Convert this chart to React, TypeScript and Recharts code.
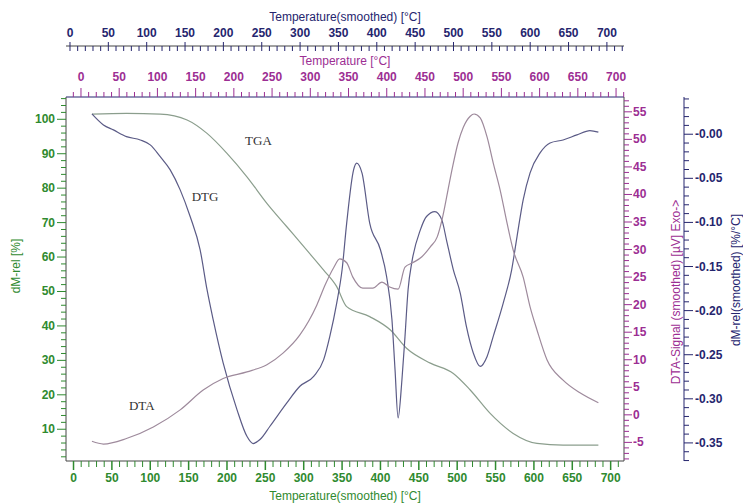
import React from 'react';
import { ComposedChart, Line, XAxis, YAxis, ReferenceDot } from 'recharts';

// TGA: relative mass [%] vs temperature
const tgaTemp = [24, 69, 113, 148, 174, 200, 226, 252, 278, 304, 326, 343, 356, 386, 413, 434, 465, 495, 517, 543, 573, 604, 638, 684];
const tgaMass = [101.5, 101.7, 101.5, 99.8, 95.9, 90.1, 83.3, 75.6, 68.8, 62.0, 56.2, 51.4, 45.6, 42.7, 38.8, 33.5, 29.2, 26.2, 21.4, 14.6, 8.8, 5.9, 5.4, 5.4];

// DTA signal [µV]
const dtaTemp = [24, 39, 69, 104, 139, 169, 195, 226, 252, 273, 295, 317, 328, 339, 347, 356, 364, 377, 390, 402, 412, 423, 432, 442, 454, 465, 474, 481, 488, 494, 501, 508, 517, 522, 530, 539, 547, 556, 565, 573, 586, 595, 604, 617, 638, 660, 684];
const dtaSignal = [-4.8, -5.3, -4.3, -2.2, 0.9, 4.5, 6.6, 7.8, 9.1, 11.2, 14.5, 19.9, 23.6, 26.7, 28.3, 27.6, 25.0, 23.0, 23.0, 24.1, 23.2, 22.8, 26.8, 27.6, 28.7, 30.5, 32.3, 35.9, 40.8, 45.0, 49.3, 52.2, 54.2, 54.6, 53.9, 50.4, 45.7, 40.8, 34.8, 29.9, 25.0, 19.6, 15.4, 10.0, 6.3, 4.0, 2.2];

// DTG: mass change rate [%/°C]
const dtgTemp = [24, 39, 52, 69, 87, 100, 113, 126, 139, 152, 165, 174, 182, 195, 213, 226, 234, 243, 256, 278, 295, 313, 326, 334, 343, 350, 356, 365, 369, 376, 386, 400, 408, 415, 419, 423, 428, 432, 436, 441, 452, 460, 471, 480, 486, 495, 504, 512, 521, 530, 539, 547, 560, 571, 578, 586, 595, 608, 621, 638, 656, 673, 684];
const dtgRate = [0.023, 0.0105, 0.0049, -0.0027, -0.0065, -0.0121, -0.0254, -0.0404, -0.0631, -0.0933, -0.131, -0.1763, -0.2103, -0.2593, -0.3122, -0.3425, -0.3507, -0.3462, -0.3311, -0.3046, -0.2858, -0.2745, -0.2556, -0.2292, -0.1914, -0.1537, -0.1008, -0.0404, -0.0328, -0.0442, -0.1008, -0.131, -0.1613, -0.2103, -0.2669, -0.3216, -0.2783, -0.2292, -0.1763, -0.1447, -0.1085, -0.0933, -0.0877, -0.0971, -0.1197, -0.1537, -0.1801, -0.2179, -0.248, -0.2632, -0.2519, -0.2292, -0.1914, -0.1537, -0.116, -0.0744, -0.0438, -0.0212, -0.0099, -0.0065, -0.0008, 0.0041, 0.0023];

const seriesNames = ['TGA', 'DTG', 'DTA'];

const tgaData = tgaTemp.map((t, i) => ({ t, v: tgaMass[i] }));
const dtaData = dtaTemp.map((t, i) => ({ t, v: dtaSignal[i] }));
const dtgData = dtgTemp.map((t, i) => ({ t, v: dtgRate[i] }));

const range = (from: number, to: number, step: number) =>
  Array.from({ length: Math.round((to - from) / step) + 1 }, (_, i) => from + i * step);

const bottomTicks = range(0, 710, 10);
const topPurpleTicks = range(-10, 710, 10);
const topNavyTicks = range(0, 720, 10);
const massTicks = range(2, 106, 2);
const dtaTicks = range(-8, 57, 1);
const dtgTicks = range(-37, 4, 1).map((k) => k / 100);

const GREEN = '#2f8a2f';
const PURPLE = '#9c2e93';
const NAVY = '#25256e';
const BOX = '#444';
const FONT = '"Liberation Sans", Arial, sans-serif';

const PLOT_TOP = 97;
const PLOT_BOTTOM = 461;
const PLOT_LEFT = 66;
const PLOT_RIGHT = 624;
const NAVY_TOP_BASE = 51;
const NAVY_RIGHT_X = 684;

const BottomTick = ({ x, payload }: any) => {
  const v = payload.value;
  const major = v % 50 === 0;
  return (
    <g>
      <line x1={x} x2={x} y1={PLOT_BOTTOM} y2={PLOT_BOTTOM + (major ? 9 : 6)} stroke={GREEN} strokeWidth={major ? 1.5 : 1} />
      {major && (
        <text x={x} y={482} textAnchor="middle" fill={GREEN} fontSize={12} fontWeight="bold" fontFamily={FONT}>{v}</text>
      )}
    </g>
  );
};

const TopTick = ({ x, payload, base, color, labelY }: any) => {
  const v = payload.value;
  const major = v % 50 === 0;
  return (
    <g>
      <line x1={x} x2={x} y1={base} y2={base - (major ? 9 : 5)} stroke={color} strokeWidth={1} />
      {major && v >= 0 && (
        <text x={x} y={labelY} textAnchor="middle" fill={color} fontSize={12} fontWeight="bold" fontFamily={FONT}>{v}</text>
      )}
    </g>
  );
};

const MassTick = ({ y, payload }: any) => {
  const v = payload.value;
  const major = v % 10 === 0;
  return (
    <g>
      <line x1={PLOT_LEFT} x2={PLOT_LEFT - (major ? 9 : 5)} y1={y} y2={y} stroke={GREEN} strokeWidth={1} />
      {major && (
        <text x={55} y={y + 4} textAnchor="end" fill={GREEN} fontSize={12} fontWeight="bold" fontFamily={FONT}>{v}</text>
      )}
    </g>
  );
};

const DtaTick = ({ y, payload }: any) => {
  const v = payload.value;
  const major = v % 5 === 0;
  return (
    <g>
      <line x1={PLOT_RIGHT} x2={PLOT_RIGHT + (major ? 8 : 5)} y1={y} y2={y} stroke={PURPLE} strokeWidth={1} />
      {major && (
        <text x={633} y={y + 4} textAnchor="start" fill={PURPLE} fontSize={12} fontWeight="bold" fontFamily={FONT}>{v}</text>
      )}
    </g>
  );
};

const DtgTick = ({ y, payload }: any) => {
  const k = Math.round(payload.value * 100);
  const major = k % 5 === 0 && k <= 0;
  return (
    <g>
      <line x1={NAVY_RIGHT_X} x2={NAVY_RIGHT_X + (major ? 9 : 5)} y1={y} y2={y} stroke={NAVY} strokeWidth={1} />
      {major && (
        <text x={695} y={y + 4} textAnchor="start" fill={NAVY} fontSize={12} fontWeight="bold" fontFamily={FONT}>
          {k === 0 ? '-0.00' : (k / 100).toFixed(2)}
        </text>
      )}
    </g>
  );
};

const AxisTitle = ({ tx, ty, text, color, vertical }: any) => (
  <text
    x={tx}
    y={ty}
    textAnchor="middle"
    dominantBaseline="central"
    fill={color}
    fontSize={12}
    fontFamily={FONT}
    transform={vertical ? `rotate(-90, ${tx}, ${ty})` : undefined}
  >
    {text}
  </text>
);

const CurveLabel = ({ viewBox, text }: any) => (
  <text x={viewBox.cx ?? viewBox.x} y={viewBox.cy ?? viewBox.y} textAnchor="middle" dominantBaseline="central" fill="#333" fontSize={13} fontFamily='"Liberation Serif", serif'>
    {text}
  </text>
);

const App = () => {
  return (
    <div style={{ position: 'absolute', left: 0, top: 0, background: '#fff' }}>
      <ComposedChart width={743} height={504} margin={{ top: 0, right: 0, bottom: 0, left: 10 }}>
        <XAxis
          xAxisId="bottom"
          dataKey="t"
          type="number"
          orientation="bottom"
          domain={[-9.8, 717.4]}
          allowDataOverflow
          ticks={bottomTicks}
          interval={0}
          height={43}
          axisLine={{ stroke: BOX }}
          tickLine={false}
          tick={<BottomTick />}
          label={<AxisTitle tx={345} ty={496} text="Temperature(smoothed)  [°C]" color={GREEN} />}
        />
        <XAxis
          xAxisId="topPurple"
          dataKey="t"
          type="number"
          orientation="top"
          domain={[-19.6, 710.4]}
          allowDataOverflow
          ticks={topPurpleTicks}
          interval={0}
          height={46}
          axisLine={{ stroke: BOX }}
          tickLine={false}
          tick={<TopTick base={PLOT_TOP} color={PURPLE} labelY={81} />}
          label={<AxisTitle tx={345} ty={61} text="Temperature  [°C]" color={PURPLE} />}
        />
        <XAxis
          xAxisId="topNavy"
          dataKey="t"
          type="number"
          orientation="top"
          domain={[-5.2, 722.3]}
          allowDataOverflow
          ticks={topNavyTicks}
          interval={0}
          height={51}
          axisLine={{ stroke: NAVY }}
          tickLine={false}
          tick={<TopTick base={NAVY_TOP_BASE} color={NAVY} labelY={37} />}
          label={<AxisTitle tx={345} ty={17} text="Temperature(smoothed)  [°C]" color={NAVY} />}
        />
        <YAxis
          yAxisId="tga"
          type="number"
          orientation="left"
          domain={[0.78, 106.47]}
          allowDataOverflow
          ticks={massTicks}
          interval={0}
          width={56}
          axisLine={{ stroke: BOX }}
          tickLine={false}
          tick={<MassTick />}
          label={<AxisTitle tx={16} ty={266} text="dM-rel [%]" color={GREEN} vertical />}
        />
        <YAxis
          yAxisId="dta"
          type="number"
          orientation="right"
          domain={[-8.38, 57.69]}
          allowDataOverflow
          ticks={dtaTicks}
          interval={0}
          width={60}
          axisLine={{ stroke: BOX }}
          tickLine={false}
          tick={<DtaTick />}
          label={<AxisTitle tx={676} ty={292} text="DTA-Signal (smoothed)  [µV] Exo->" color={PURPLE} vertical />}
        />
        <YAxis
          yAxisId="dtg"
          type="number"
          orientation="right"
          domain={[-0.3705, 0.0422]}
          allowDataOverflow
          ticks={dtgTicks}
          interval={0}
          width={59}
          axisLine={{ stroke: NAVY }}
          tickLine={false}
          tick={<DtgTick />}
          label={<AxisTitle tx={736} ty={280} text="dM-rel(smoothed)  [%/°C]" color={NAVY} vertical />}
        />
        <Line data={tgaData} dataKey="v" name={seriesNames[0]} xAxisId="bottom" yAxisId="tga" type="monotone" dot={false} stroke="#8b9e8d" strokeWidth={1.2} isAnimationActive={false} />
        <Line data={dtgData} dataKey="v" name={seriesNames[1]} xAxisId="bottom" yAxisId="dtg" type="monotone" dot={false} stroke="#5b5b86" strokeWidth={1.2} isAnimationActive={false} />
        <Line data={dtaData} dataKey="v" name={seriesNames[2]} xAxisId="bottom" yAxisId="dta" type="monotone" dot={false} stroke="#9e8a9c" strokeWidth={1.2} isAnimationActive={false} />
        <ReferenceDot xAxisId="bottom" yAxisId="tga" x={241} y={93.7} r={0} fill="none" stroke="none" label={<CurveLabel text={seriesNames[0]} />} />
        <ReferenceDot xAxisId="bottom" yAxisId="tga" x={171.4} y={77.7} r={0} fill="none" stroke="none" label={<CurveLabel text={seriesNames[1]} />} />
        <ReferenceDot xAxisId="bottom" yAxisId="tga" x={88.9} y={17} r={0} fill="none" stroke="none" label={<CurveLabel text={seriesNames[2]} />} />
      </ComposedChart>
    </div>
  );
};

export default App;
